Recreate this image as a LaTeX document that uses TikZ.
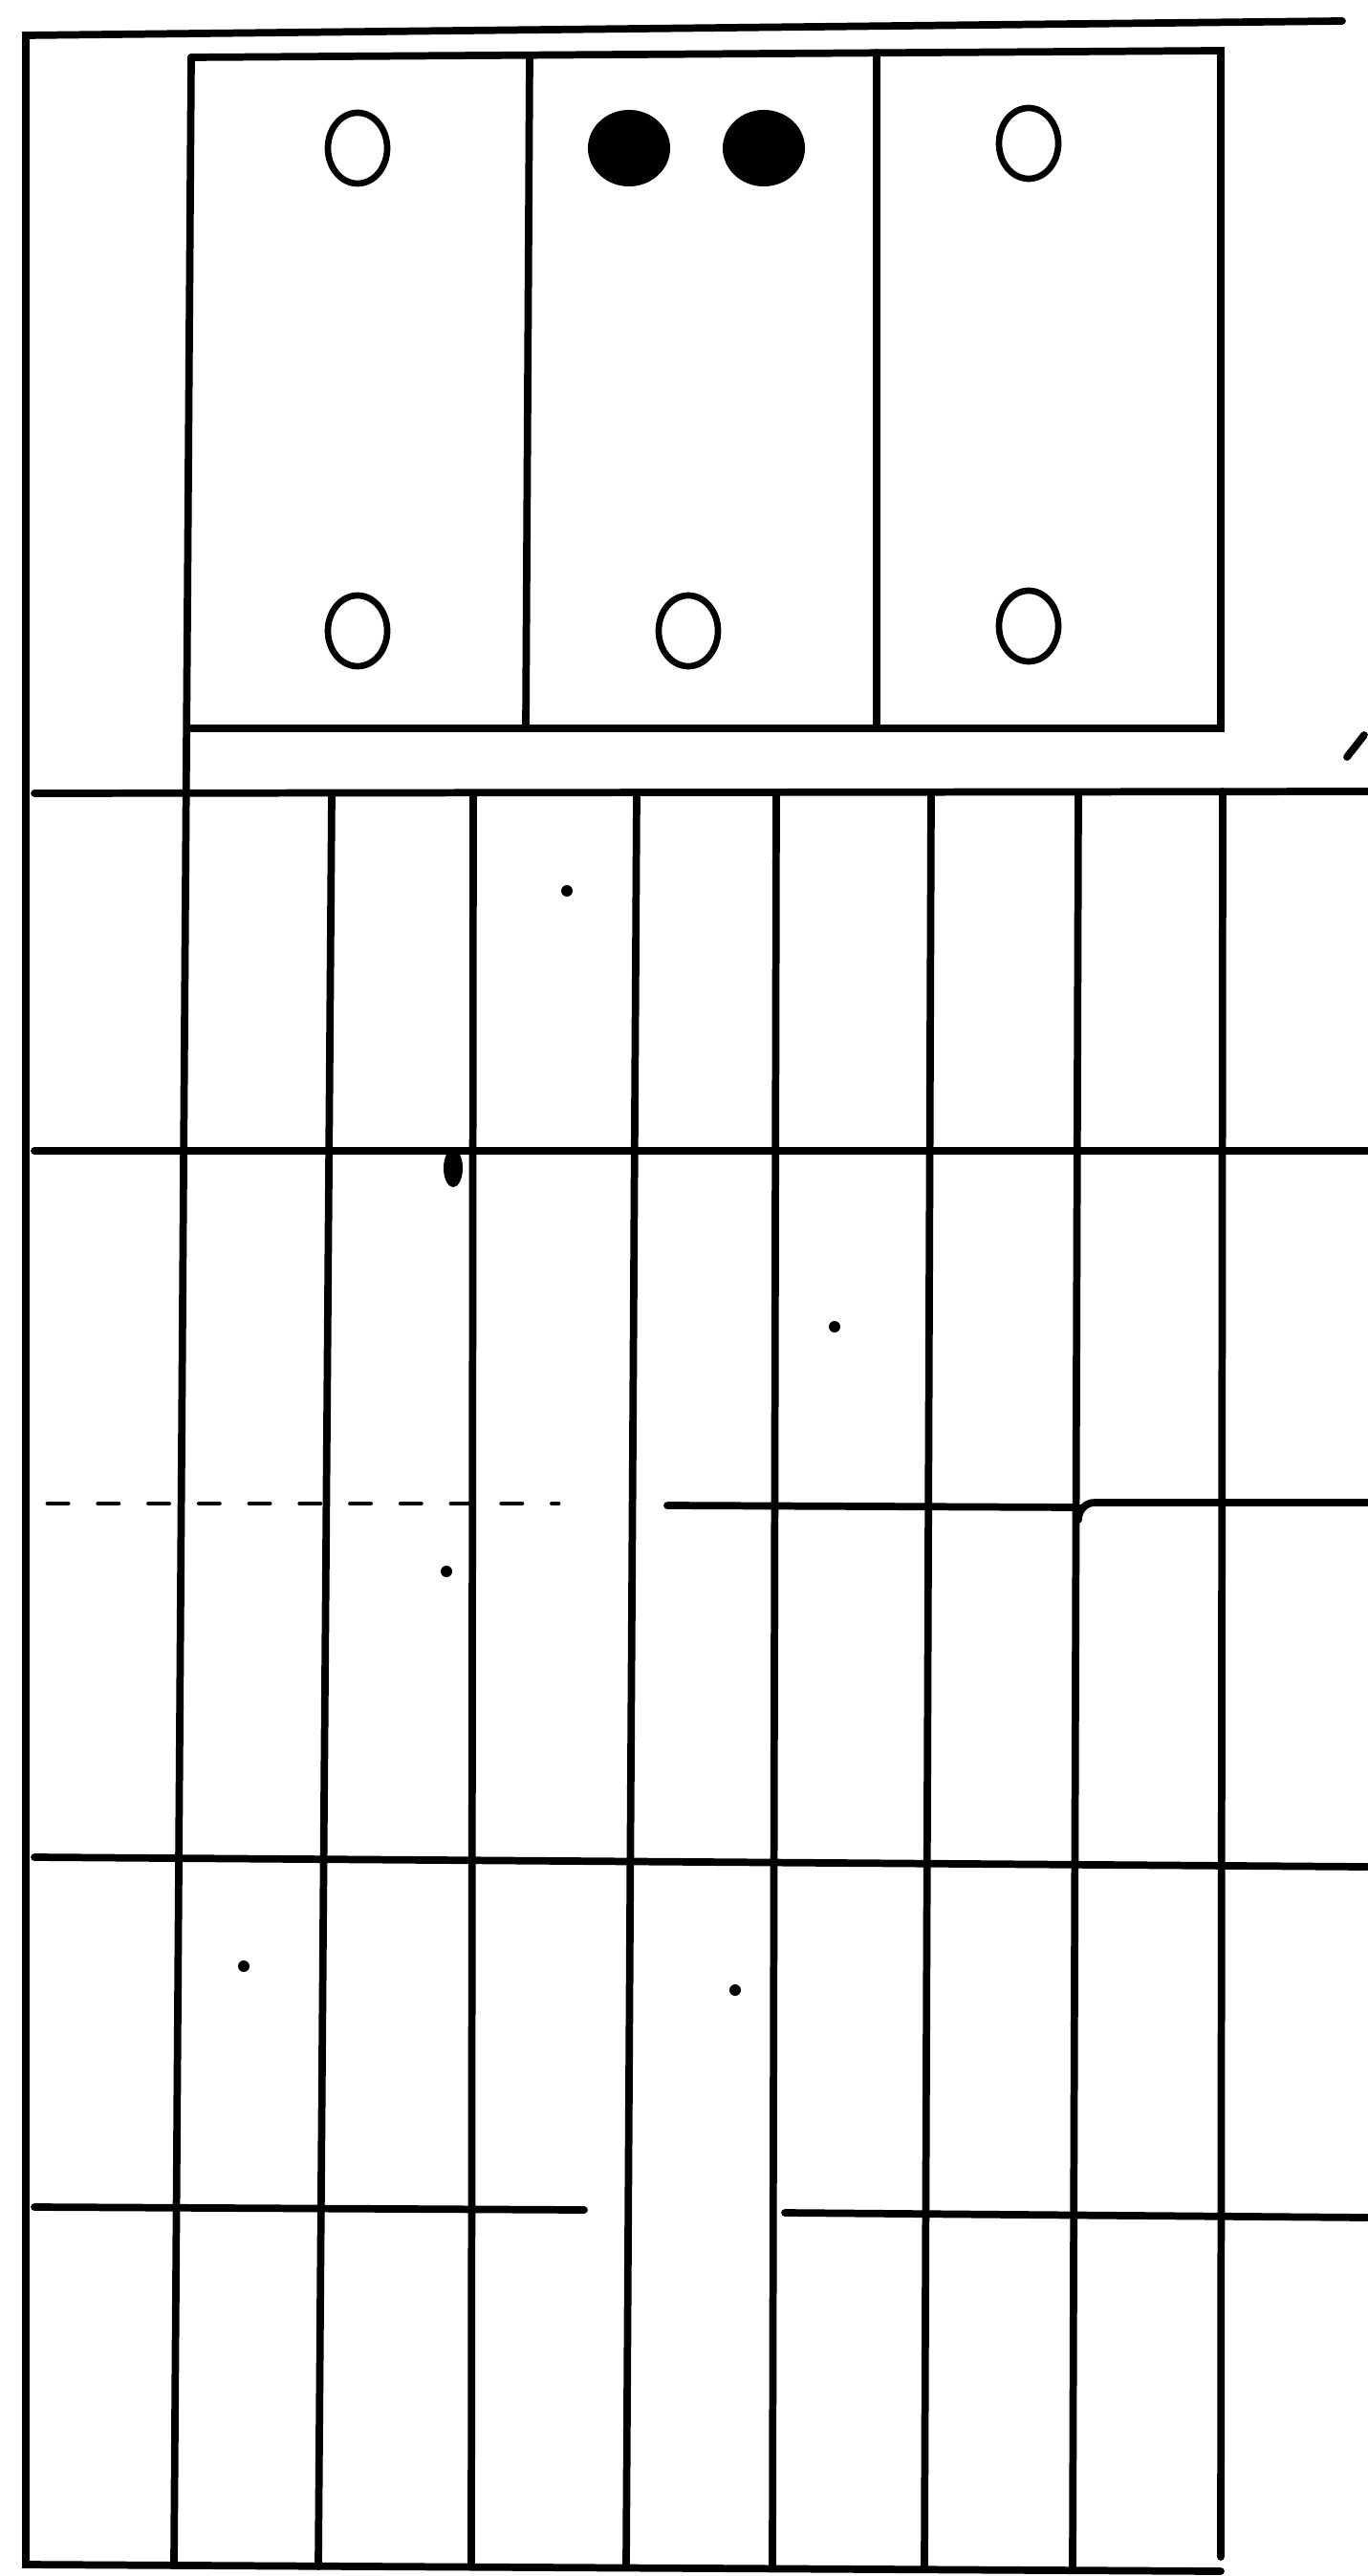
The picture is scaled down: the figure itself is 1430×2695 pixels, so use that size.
\documentclass[tikz,border=0pt]{standalone}
\usetikzlibrary{shapes.geometric}
\begin{document}
\begin{tikzpicture}[x=0.01cm, y=-0.01cm, line cap=round,
  ink/.style={line width=2.2pt},
  faint/.style={line width=1.4pt, dash pattern=on 6pt off 9pt},
  hole/.style={draw, ellipse, line width=1.9pt, minimum width=6.2mm, minimum height=7.4mm, inner sep=0pt},
  pin/.style={fill, ellipse, minimum width=8.6mm, minimum height=8mm, inner sep=0pt},
  speck/.style={fill, circle, inner sep=0pt, minimum size=1.2mm}]
\useasboundingbox (0,0) rectangle (1430,2695);
% outer frame
\draw[ink] (1404,22) -- (27,37) -- (27,2683) -- (1277,2690);
% top panel box
\draw[ink] (200,60) -- (1277,53) -- (1277,762) -- (200,762);
\draw[ink] (554,58) -- (550,762);
\draw[ink] (917,55) -- (917,762);
\node[hole] (h1) at (374,155) {};
\node[pin] (p1) at (658,155) {};
\node[pin] (p2) at (799,155) {};
\node[hole] (h2) at (1076,150) {};
\node[hole] (h3) at (374,660) {};
\node[hole] (h4) at (720,660) {};
\node[hole] (h5) at (1076,655) {};
% grid rows
\draw[ink] (36,830) -- (1430,828);
\draw[ink] (36,1204) -- (1430,1204);
\draw[faint] (50,1573) -- (584,1573);
\draw[ink] (698,1575) -- (1128,1577);
\draw[ink] (1128,1590) to[out=90, in=180] (1145,1572) -- (1430,1572);
\draw[ink] (36,1943) -- (1430,1953);
\draw[ink] (36,2309) -- (611,2312);
\draw[ink] (821,2315) -- (1430,2320);
% grid columns
\draw[ink] (200,60) -- (182,2683);
\foreach \xa/\xb in {347/333, 495/493, 666/655, 812/808, 974/967, 1128/1122}
  \draw[ink] (\xa,830) -- (\xb,2685);
\draw[ink] (1279,828) -- (1277,2675);
% stray marks
\node[pin, minimum width=2mm, minimum height=4mm] (blob) at (474,1222) {};
\draw[ink] (1409,792) -- (1427,769);
\node[speck] (s1) at (593,932) {};
\node[speck] (s2) at (873,1388) {};
\node[speck] (s3) at (467,1644) {};
\node[speck] (s4) at (255,2057) {};
\node[speck] (s5) at (769,2082) {};
\end{tikzpicture}
\end{document}
